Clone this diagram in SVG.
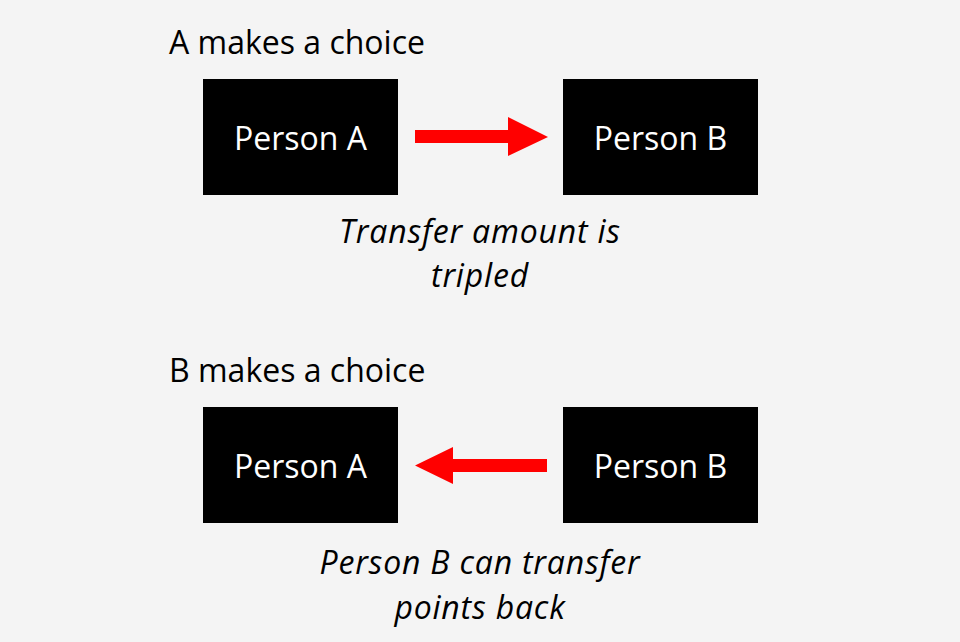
<svg xmlns="http://www.w3.org/2000/svg" width="960" height="642" viewBox="0 0 960 642">
<style>
.bg{fill:#f4f4f4}
.box{fill:#000}
.lbl{font-family:"Open Sans","Noto Sans",sans-serif;font-size:32px;fill:#fff;text-anchor:middle}
.head{font-family:"Open Sans","Noto Sans",sans-serif;font-size:32px;fill:#000}
.cap{font-family:"Open Sans","Noto Sans",sans-serif;font-size:32px;font-style:italic;letter-spacing:0.8px;fill:#000;text-anchor:middle}
.arr{fill:#ff0000}
</style>
<rect class="bg" x="0" y="0" width="960" height="642"/>
<text class="head" x="169" y="54">A makes a choice</text>
<g id="topA"><rect class="box" x="203" y="79" width="195" height="116"/><text class="lbl" x="300.5" y="150">Person A</text></g>
<g id="topB"><rect class="box" x="563" y="79" width="195" height="116"/><text class="lbl" x="660.5" y="150">Person B</text></g>
<text class="cap" x="480" y="243">Transfer amount is</text>
<text class="cap" x="480" y="287">tripled</text>
<text class="head" x="169" y="382">B makes a choice</text>
<g id="botA"><rect class="box" x="203" y="407" width="195" height="116"/><text class="lbl" x="300.5" y="478">Person A</text></g>
<g id="botB"><rect class="box" x="563" y="407" width="195" height="116"/><text class="lbl" x="660.5" y="478">Person B</text></g>
<text class="cap" x="480" y="574">Person B can transfer</text>
<text class="cap" x="480" y="619">points back</text>
<g id="connectors">
<polygon class="arr" points="415,130 508,130 508,117 548,137 508,156 508,143 415,143"/>
<polygon class="arr" points="547,459 453,459 453,447 415,465.5 453,484 453,472 547,472"/>
</g>
</svg>
